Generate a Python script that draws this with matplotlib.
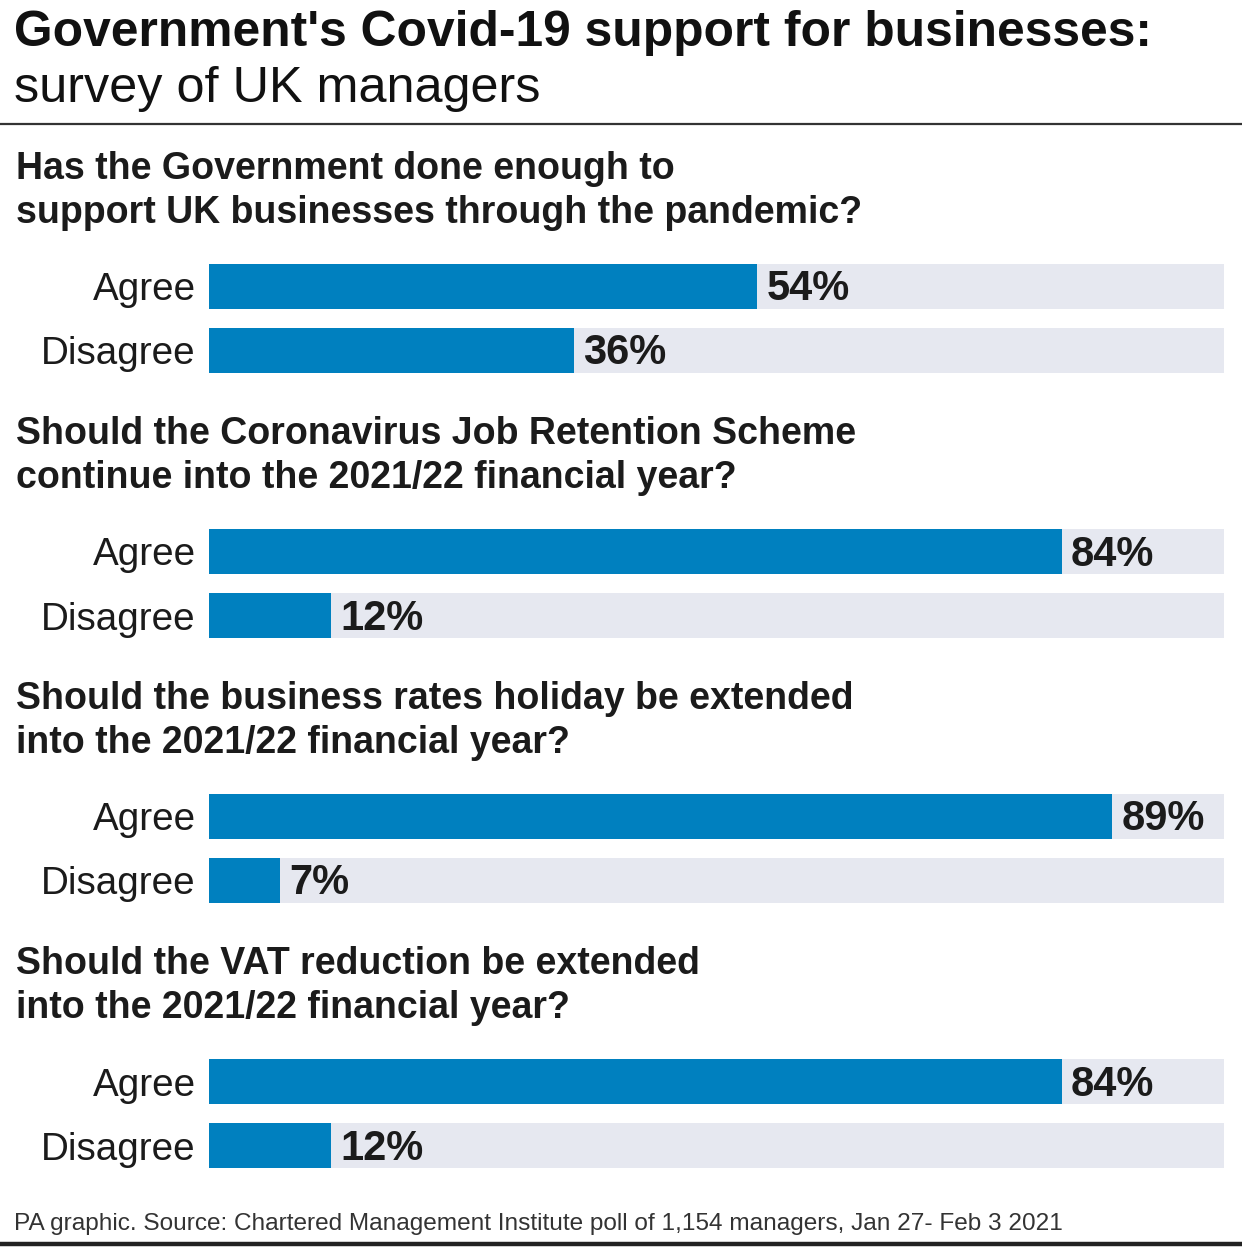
import matplotlib
matplotlib.use("Agg")
import matplotlib.pyplot as plt

W, H = 1242, 1247
DPI = 100

title = "Government's Covid-19 support for businesses:"
subtitle = "survey of UK managers"
questions = [
    ["Has the Government done enough to", "support UK businesses through the pandemic?"],
    ["Should the Coronavirus Job Retention Scheme", "continue into the 2021/22 financial year?"],
    ["Should the business rates holiday be extended", "into the 2021/22 financial year?"],
    ["Should the VAT reduction be extended", "into the 2021/22 financial year?"],
]
categories = ["Agree", "Disagree"]
agree = [54, 84, 89, 84]
disagree = [36, 12, 7, 12]
footer = "PA graphic. Source: Chartered Management Institute poll of 1,154 managers, Jan 27- Feb 3 2021"

BLUE = "#0080BF"
BG = "#E6E8F0"
TXT = "#1b1b1b"
FONT = ["Liberation Sans", "DejaVu Sans"]

fig = plt.figure(figsize=(W / DPI, H / DPI), dpi=DPI)
fig.patch.set_facecolor("white")

def fx(x):
    return x / W

def fy(y):
    return 1 - y / H

# bar axes: x in percent, y in pixel rows (inverted)
x0, x1 = 209, 1224
ax = fig.add_axes([fx(x0), 0, (x1 - x0) / W, 1])
ax.set_xlim(0, 100)
ax.set_ylim(H, 0)
ax.axis("off")

start, step, gap, bh = 286.5, 265, 64, 45
for i, (q, a, d) in enumerate(zip(questions, agree, disagree)):
    yc = start + i * step
    for j, (cat, v) in enumerate(zip(categories, [a, d])):
        y = yc + j * gap
        ax.barh(y, 100, height=bh, left=0, color=BG, linewidth=0)
        ax.barh(y, v, height=bh, left=0, color=BLUE, linewidth=0)
        ax.text(v + 0.9, y + 14, f"{v}%", ha="left", va="baseline",
                fontsize=30, fontweight="bold", color=TXT, family=FONT)
        fig.text(fx(196), fy(y + 14), cat, ha="right", va="baseline",
                 fontsize=27.8, color=TXT, family=FONT)
    for k, line in enumerate(q):
        fig.text(fx(16), fy(yc - 107.5 + k * 44), line, ha="left", va="baseline",
                 fontsize=27, fontweight="bold", color=TXT, family=FONT)

fig.text(fx(14), fy(46), title, ha="left", va="baseline", fontsize=35.8,
         fontweight="bold", color="#111111", family=FONT)
fig.text(fx(14), fy(102), subtitle, ha="left", va="baseline", fontsize=36.3,
         color="#111111", family=FONT)
fig.text(fx(14), fy(1230), footer, ha="left", va="baseline", fontsize=17.6,
         color="#333333", family=FONT)

# rules
fig.add_artist(plt.Line2D([0, 1], [fy(123.5), fy(123.5)], color="#333333", lw=1.6))
fig.add_artist(plt.Line2D([0, 1], [fy(1244), fy(1244)], color="#222222", lw=3.2))

fig.savefig("out.png", dpi=DPI, facecolor="white")
